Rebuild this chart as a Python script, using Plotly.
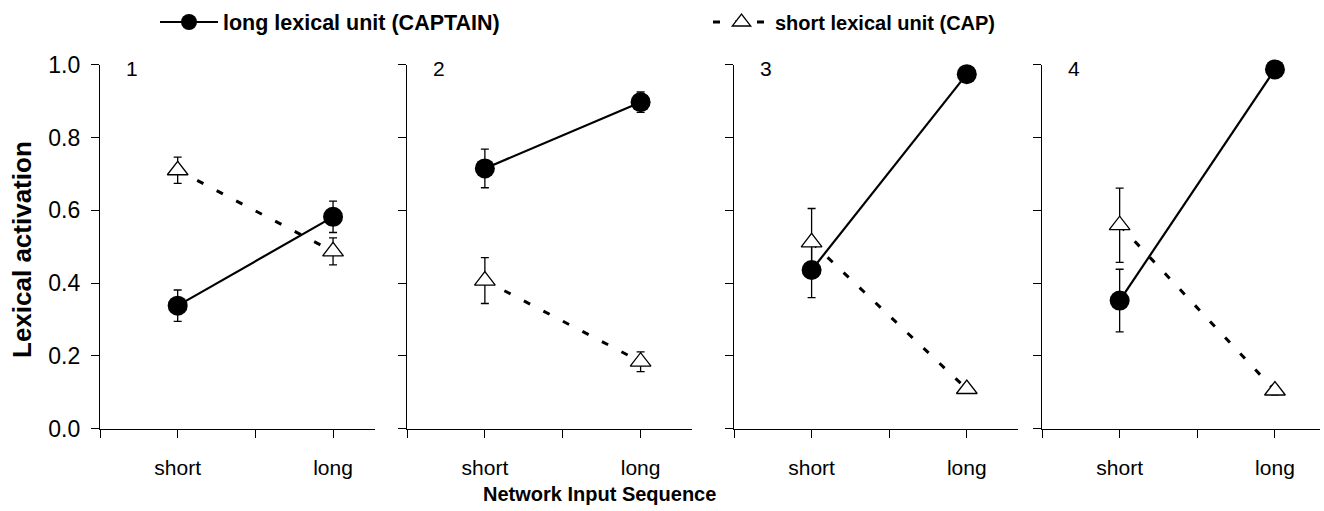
import plotly.graph_objects as go

# ---------------- data ----------------
categories = ["short", "long"]
x_pos = [1, 2]
panel_labels = ["1", "2", "3", "4"]

long_mean_p1 = [0.338, 0.582]
long_mean_p2 = [0.715, 0.897]
long_mean_p3 = [0.436, 0.974]
long_mean_p4 = [0.352, 0.987]
long_err_p1 = [0.043, 0.043]
long_err_p2 = [0.053, 0.028]
long_err_p3 = [0.076, 0.020]
long_err_p4 = [0.086, 0.020]

short_mean_p1 = [0.710, 0.487]
short_mean_p2 = [0.407, 0.184]
short_mean_p3 = [0.512, 0.109]
short_mean_p4 = [0.559, 0.105]
short_err_p1 = [0.036, 0.037]
short_err_p2 = [0.063, 0.027]
short_err_p3 = [0.093, 0.012]
short_err_p4 = [0.102, 0.012]

y_ticks = [0.0, 0.2, 0.4, 0.6, 0.8, 1.0]
y_ticktext = ["0.0", "0.2", "0.4", "0.6", "0.8", "1.0"]

long_means = [long_mean_p1, long_mean_p2, long_mean_p3, long_mean_p4]
long_errs = [long_err_p1, long_err_p2, long_err_p3, long_err_p4]
short_means = [short_mean_p1, short_mean_p2, short_mean_p3, short_mean_p4]
short_errs = [short_err_p1, short_err_p2, short_err_p3, short_err_p4]

# ---------------- layout geometry ----------------
W, H = 1324, 511
panel_px = [(100, 375), (407, 692), (734, 1018), (1042, 1320)]
x_ranges = [[0.5, 2.27], [0.5, 2.33], [0.5, 2.33], [0.5, 2.29]]
y_dom = [(H - 428.7) / H, (H - 64.7) / H]

FONT = "Liberation Sans, Arial, sans-serif"

fig = go.Figure()

for i in range(4):
    xa = "x" if i == 0 else f"x{i+1}"
    ya = "y" if i == 0 else f"y{i+1}"
    fig.add_trace(go.Scatter(
        x=x_pos, y=long_means[i], xaxis=xa, yaxis=ya,
        mode="lines+markers",
        name="long lexical unit (CAPTAIN)",
        line=dict(color="black", width=2.2),
        marker=dict(symbol="circle", size=20, color="black"),
        error_y=dict(type="data", array=long_errs[i], color="black", thickness=1.3, width=4),
        showlegend=(i == 0), legend="legend", cliponaxis=False,
    ))
    fig.add_trace(go.Scatter(
        x=x_pos, y=short_means[i], xaxis=xa, yaxis=ya,
        mode="lines+markers",
        name="short lexical unit (CAP)",
        line=dict(color="black", width=3, dash="7px,15px"),
        marker=dict(symbol="triangle-up", size=18, color="white",
                    line=dict(color="black", width=1.3)),
        error_y=dict(type="data", array=short_errs[i], color="black", thickness=1.3, width=4),
        showlegend=(i == 0), legend="legend2", cliponaxis=False,
    ))

layout = dict(
    width=W, height=H, autosize=False,
    margin=dict(l=0, r=0, t=0, b=0, autoexpand=False),
    paper_bgcolor="white", plot_bgcolor="white",
    font=dict(family=FONT, color="black"),
)

for i in range(4):
    xk = "xaxis" if i == 0 else f"xaxis{i+1}"
    yk = "yaxis" if i == 0 else f"yaxis{i+1}"
    x0, x1 = panel_px[i]
    ya = "y" if i == 0 else f"y{i+1}"
    xa = "x" if i == 0 else f"x{i+1}"
    layout[xk] = dict(
        domain=[x0 / W, x1 / W], range=x_ranges[i], anchor=ya,
        tickmode="array", tickvals=[0.5, 1, 1.5, 2],
        ticktext=["", categories[0], "", categories[1]],
        ticks="outside", ticklen=8, tickwidth=1.3, tickcolor="black",
        showline=True, linecolor="black", linewidth=1.3,
        showgrid=False, zeroline=False, fixedrange=True, automargin=False,
        tickfont=dict(size=21, family=FONT, color="black"),
        ticklabelstandoff=12,
    )
    layout[yk] = dict(
        domain=y_dom, range=[0, 1], anchor=xa,
        tickmode="array", tickvals=y_ticks, ticktext=y_ticktext,
        showticklabels=(i == 0),
        ticks="outside", ticklen=8, tickwidth=1.3, tickcolor="black",
        showline=True, linecolor="black", linewidth=1.3,
        showgrid=False, zeroline=False, fixedrange=True, automargin=False,
        tickfont=dict(size=23, family=FONT, color="black"),
        ticklabelstandoff=6,
    )

layout["legend"] = dict(
    x=155 / W, y=(H - 22) / H, xanchor="left", yanchor="middle",
    orientation="h", bgcolor="rgba(0,0,0,0)", itemwidth=58,
    font=dict(size=21.5, family=FONT, color="black", weight="bold"),
)
layout["legend2"] = dict(
    x=708 / W, y=(H - 22) / H, xanchor="left", yanchor="middle",
    orientation="h", bgcolor="rgba(0,0,0,0)", itemwidth=57,
    font=dict(size=20, family=FONT, color="black", weight="bold"),
)

annotations = []
for i in range(4):
    x0, _ = panel_px[i]
    annotations.append(dict(
        text=panel_labels[i], xref="paper", yref="paper",
        x=(x0 + 32) / W, y=(H - 68) / H, xanchor="center", yanchor="middle",
        showarrow=False, font=dict(size=21, family=FONT, color="black"),
    ))
annotations.append(dict(
    text="<b>Lexical activation</b>", xref="paper", yref="paper",
    x=22 / W, y=(H - 250) / H, xanchor="center", yanchor="middle",
    textangle=-90, showarrow=False, font=dict(size=26, family=FONT, color="black"),
))
annotations.append(dict(
    text="<b>Network Input Sequence</b>", xref="paper", yref="paper",
    x=599 / W, y=(H - 494) / H, xanchor="center", yanchor="middle",
    showarrow=False, font=dict(size=20, family=FONT, color="black"),
))
layout["annotations"] = annotations

fig.update_layout(**layout)
fig.write_html("out.html", config={"displayModeBar": False},
               post_script="document.body.style.margin='0px';")
